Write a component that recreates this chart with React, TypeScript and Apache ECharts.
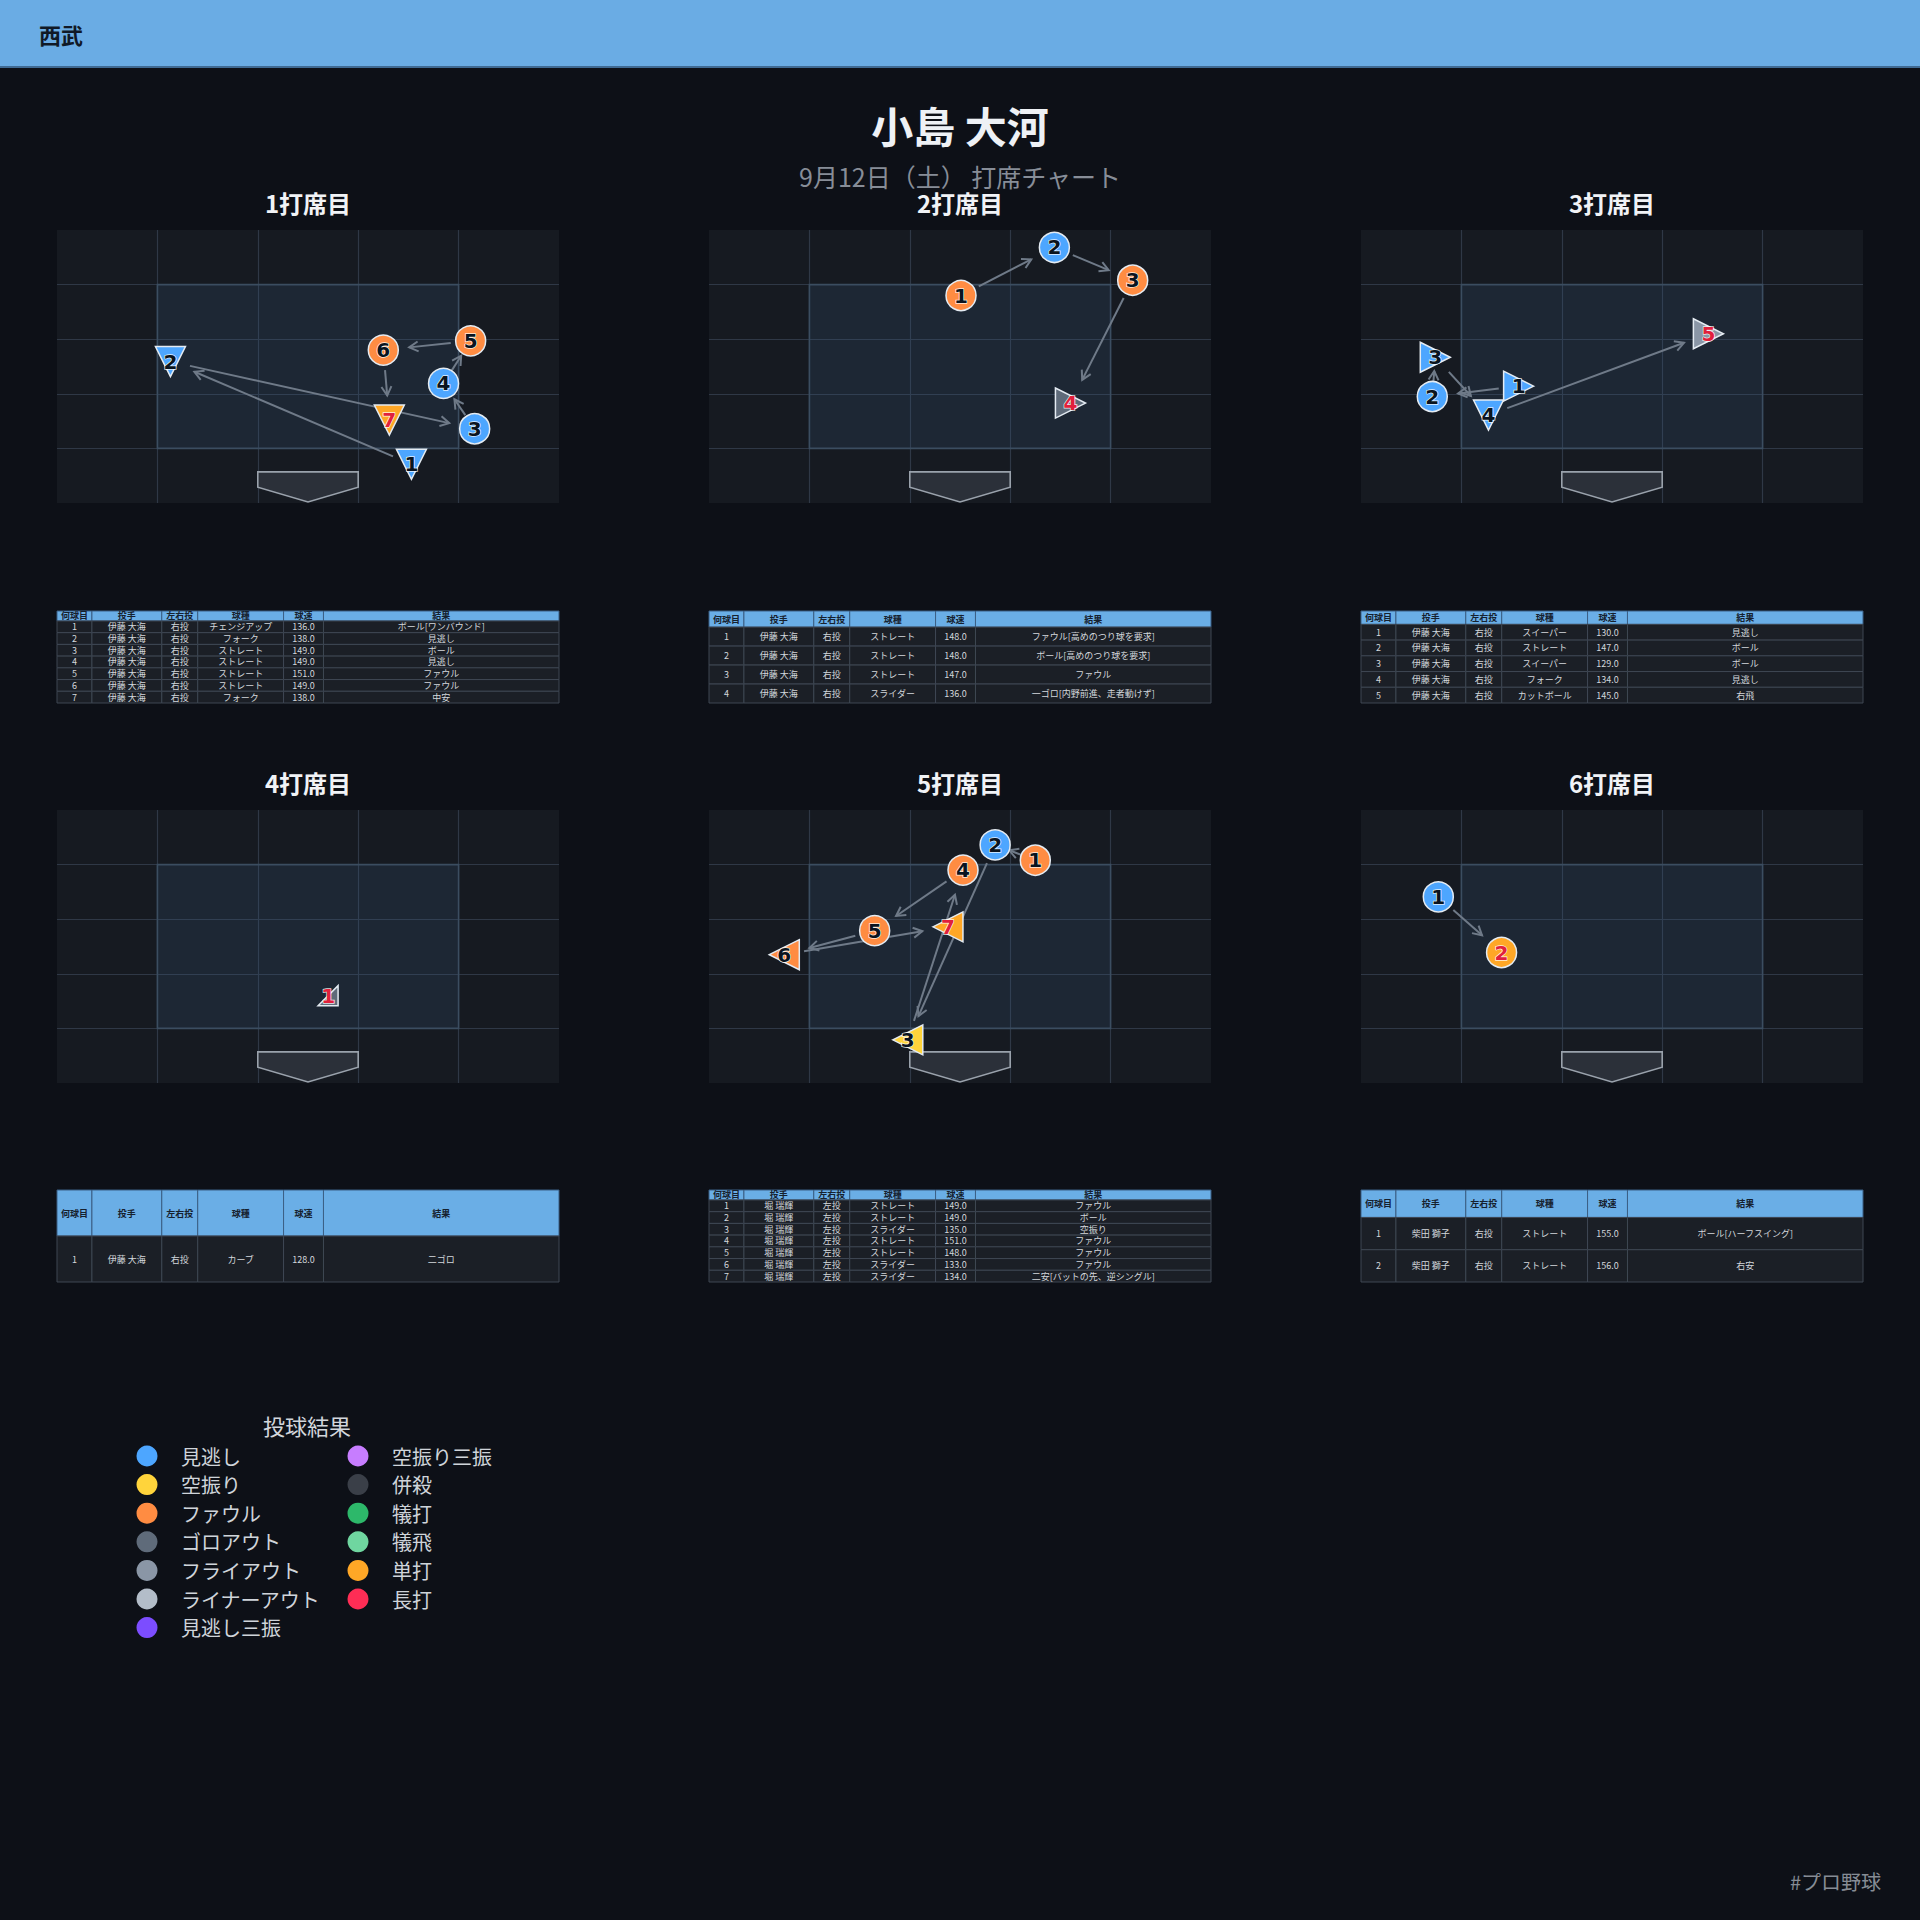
import React, { useEffect, useRef } from 'react';
import * as echarts from 'echarts';

const FONT = '"Noto Sans CJK JP", "Noto Sans", sans-serif';

const teamName = '西武';
const batterName = '小島 大河';
const subtitleText = '9月12日（土） 打席チャート';
const footerTag = '#プロ野球';
const legendTitle = '投球結果';
const tableHeaders = ['何球目', '投手', '左右投', '球種', '球速', '結果'];
const paTitles = ['1打席目', '2打席目', '3打席目', '4打席目', '5打席目', '6打席目'];

// 1打席目
const pa1Pitcher = '伊藤 大海';
const pa1Hand = '右投';
const pa1X = [3.53, 1.13, 4.16, 3.85, 4.12, 3.25, 3.31];
const pa1Y = [0.71, 2.59, 1.36, 2.19, 2.97, 2.8, 1.52];
const pa1Type = ['チェンジアップ', 'フォーク', 'ストレート', 'ストレート', 'ストレート', 'ストレート', 'フォーク'];
const pa1Speed = [136.0, 138.0, 149.0, 149.0, 151.0, 149.0, 138.0];
const pa1Result = ['ボール[ワンバウンド]', '見逃し', 'ボール', '見逃し', 'ファウル', 'ファウル', '中安'];
const pa1Cat = ['ボール', '見逃し', 'ボール', '見逃し', 'ファウル', 'ファウル', '単打'];

// 2打席目
const pa2Pitcher = '伊藤 大海';
const pa2Hand = '右投';
const pa2X = [2.51, 3.44, 4.22, 3.6];
const pa2Y = [3.8, 4.68, 4.08, 1.83];
const pa2Type = ['ストレート', 'ストレート', 'ストレート', 'スライダー'];
const pa2Speed = [148.0, 148.0, 147.0, 136.0];
const pa2Result = ['ファウル[高めのつり球を要求]', 'ボール[高めのつり球を要求]', 'ファウル', '一ゴロ[内野前進、走者動けず]'];
const pa2Cat = ['ファウル', 'ボール', 'ファウル', 'ゴロアウト'];

// 3打席目
const pa3Pitcher = '伊藤 大海';
const pa3Hand = '右投';
const pa3X = [1.57, 0.71, 0.74, 1.27, 3.46];
const pa3Y = [2.14, 1.95, 2.67, 1.61, 3.1];
const pa3Type = ['スイーパー', 'ストレート', 'スイーパー', 'フォーク', 'カットボール'];
const pa3Speed = [130.0, 147.0, 129.0, 134.0, 145.0];
const pa3Result = ['見逃し', 'ボール', 'ボール', '見逃し', '右飛'];
const pa3Cat = ['見逃し', 'ボール', 'ボール', '見逃し', 'フライアウト'];

// 4打席目
const pa4Pitcher = '伊藤 大海';
const pa4Hand = '右投';
const pa4X = [2.7];
const pa4Y = [1.6];
const pa4Type = ['カーブ'];
const pa4Speed = [128.0];
const pa4Result = ['二ゴロ'];
const pa4Cat = ['ゴロアウト'];

// 5打席目
const pa5Pitcher = '堀 瑞輝';
const pa5Hand = '左投';
const pa5X = [3.25, 2.85, 1.98, 2.53, 1.65, 0.75, 2.38];
const pa5Y = [4.08, 4.36, 0.79, 3.9, 2.79, 2.35, 2.86];
const pa5Type = ['ストレート', 'ストレート', 'スライダー', 'ストレート', 'ストレート', 'スライダー', 'スライダー'];
const pa5Speed = [149.0, 149.0, 135.0, 151.0, 148.0, 133.0, 134.0];
const pa5Result = ['ファウル', 'ボール', '空振り', 'ファウル', 'ファウル', 'ファウル', '二安[バットの先、逆シングル]'];
const pa5Cat = ['ファウル', 'ボール', '空振り', 'ファウル', 'ファウル', 'ファウル', '単打'];

// 6打席目
const pa6Pitcher = '柴田 獅子';
const pa6Hand = '右投';
const pa6X = [0.77, 1.4];
const pa6Y = [3.41, 2.39];
const pa6Type = ['ストレート', 'ストレート'];
const pa6Speed = [155.0, 156.0];
const pa6Result = ['ボール[ハーフスイング]', '右安'];
const pa6Cat = ['ボール', '単打'];

// strike zone & plate (data units)
const zoneBounds = [1, 1, 4, 4];
const plateXs = [2, 3, 3, 2.5, 2];
const plateYs = [0.57, 0.57, 0.29, 0.02, 0.29];

// legend
const legendNames = ['見逃し', '空振り', 'ファウル', 'ゴロアウト', 'フライアウト', 'ライナーアウト', '見逃し三振', '空振り三振', '併殺', '犠打', '犠飛', '単打', '長打'];
const legendColors = ['#4da6ff', '#ffd43b', '#ff8c42', '#5f6b7a', '#8a96a6', '#b3bdc9', '#7c4dff', '#c77dff', '#3a3f48', '#2db86a', '#6fd6a0', '#ffa726', '#ff2d55'];

const catColor: Record<string, string> = {
  'ボール': '#4da6ff',
};
legendNames.forEach((n, i) => (catColor[n] = legendColors[i]));

const plateAppearances = [
  { pitcher: pa1Pitcher, hand: pa1Hand, x: pa1X, y: pa1Y, type: pa1Type, speed: pa1Speed, result: pa1Result, cat: pa1Cat },
  { pitcher: pa2Pitcher, hand: pa2Hand, x: pa2X, y: pa2Y, type: pa2Type, speed: pa2Speed, result: pa2Result, cat: pa2Cat },
  { pitcher: pa3Pitcher, hand: pa3Hand, x: pa3X, y: pa3Y, type: pa3Type, speed: pa3Speed, result: pa3Result, cat: pa3Cat },
  { pitcher: pa4Pitcher, hand: pa4Hand, x: pa4X, y: pa4Y, type: pa4Type, speed: pa4Speed, result: pa4Result, cat: pa4Cat },
  { pitcher: pa5Pitcher, hand: pa5Hand, x: pa5X, y: pa5Y, type: pa5Type, speed: pa5Speed, result: pa5Result, cat: pa5Cat },
  { pitcher: pa6Pitcher, hand: pa6Hand, x: pa6X, y: pa6Y, type: pa6Type, speed: pa6Speed, result: pa6Result, cat: pa6Cat },
];

// layout
const panelLefts = [57, 709, 1361];
const panelWidth = 502;
const rowTops = [230, 810];
const panelHeight = 273;
const tableTops = [611, 1190];
const tableHeight = 92;
const colRatios = [35, 70, 36, 86, 40, 236];

function symbolFor(type: string, hand: string): [string, number, number] {
  const right = hand === '右投';
  if (type === 'ストレート') return ['circle', 0, 30];
  if (type === 'フォーク' || type === 'チェンジアップ') return ['triangle', 180, 30];
  if (type === 'カーブ') return [right ? 'path://M10,0L10,10L0,10Z' : 'path://M0,0L10,10L0,10Z', 0, 20];
  return ['triangle', right ? -90 : 90, 30];
}

function buildTable(pa: any, left: number, top: number, width: number, height: number) {
  const els: any[] = [];
  const n = pa.x.length;
  const ratio = n === 1 ? 1 : 0.85;
  const rh = height / (n + ratio);
  const hh = rh * ratio;
  const total = colRatios.reduce((a, b) => a + b, 0);
  const widths = colRatios.map((r) => (r / total) * width);
  let cx = left;
  widths.forEach((w, c) => {
    els.push({
      type: 'rect',
      shape: { x: cx, y: top, width: w, height: hh },
      style: { fill: '#6aaee6', stroke: '#3b5f85', lineWidth: 1 },
      z: 10,
    });
    els.push({
      type: 'text',
      x: cx + w / 2,
      y: top + hh / 2,
      style: { text: tableHeaders[c], fill: '#16212e', font: `bold 9px ${FONT}`, textAlign: 'center', textVerticalAlign: 'middle' },
      z: 11,
    });
    cx += w;
  });
  for (let r = 0; r < n; r++) {
    const y = top + hh + r * rh;
    const vals = [String(r + 1), pa.pitcher, pa.hand, pa.type[r], pa.speed[r].toFixed(1), pa.result[r]];
    let x = left;
    widths.forEach((w, c) => {
      els.push({
        type: 'rect',
        shape: { x, y, width: w, height: rh },
        style: { fill: '#1b1f26', stroke: '#3e4753', lineWidth: 1 },
        z: 10,
      });
      els.push({
        type: 'text',
        x: x + w / 2,
        y: y + rh / 2,
        style: { text: vals[c], fill: '#d3d7dc', font: `9px ${FONT}`, textAlign: 'center', textVerticalAlign: 'middle' },
        z: 11,
      });
      x += w;
    });
  }
  return els;
}

function buildOption() {
  const grids: any[] = [];
  const xAxes: any[] = [];
  const yAxes: any[] = [];
  const series: any[] = [];
  const graphics: any[] = [];

  // header
  graphics.push({ type: 'rect', shape: { x: 0, y: 0, width: 1920, height: 66 }, style: { fill: '#6aace4' }, z: 1 });
  graphics.push({ type: 'rect', shape: { x: 0, y: 66, width: 1920, height: 2 }, style: { fill: '#3f6a93' }, z: 1 });
  graphics.push({
    type: 'text', x: 39, y: 34,
    style: { text: teamName, fill: '#101926', font: `bold 22px ${FONT}`, textAlign: 'left', textVerticalAlign: 'middle' }, z: 2,
  });
  graphics.push({
    type: 'text', x: 960, y: 124,
    style: { text: batterName, fill: '#eef1f5', font: `bold 42px ${FONT}`, textAlign: 'center', textVerticalAlign: 'middle' }, z: 2,
  });
  graphics.push({
    type: 'text', x: 960, y: 176,
    style: { text: subtitleText, fill: '#878d97', font: `25px ${FONT}`, textAlign: 'center', textVerticalAlign: 'middle' }, z: 2,
  });
  graphics.push({
    type: 'text', x: 1881, y: 1881,
    style: { text: footerTag, fill: '#868c95', font: `20px ${FONT}`, textAlign: 'right', textVerticalAlign: 'middle' }, z: 2,
  });

  plateAppearances.forEach((pa, i) => {
    const col = i % 3;
    const row = Math.floor(i / 3);
    const left = panelLefts[col];
    const top = rowTops[row];
    grids.push({ left, top, width: panelWidth, height: panelHeight, show: true, backgroundColor: '#161a21', borderWidth: 0 });
    const axisBase = {
      gridIndex: i, type: 'value', min: 0, max: 5, interval: 1,
      axisLine: { show: false }, axisTick: { show: false }, axisLabel: { show: false },
      splitLine: { show: true, showMinLine: false, showMaxLine: false, lineStyle: { color: '#2f3846', width: 1.2 } },
    };
    xAxes.push({ ...axisBase });
    yAxes.push({ ...axisBase });

    graphics.push({
      type: 'text', x: left + panelWidth / 2, y: top - 28,
      style: { text: paTitles[i], fill: '#f1f3f6', font: `bold 24px ${FONT}`, textAlign: 'center', textVerticalAlign: 'middle' }, z: 2,
    });

    // strike zone
    series.push({
      type: 'custom', xAxisIndex: i, yAxisIndex: i, silent: true, z: 1, clip: false,
      data: [zoneBounds],
      renderItem: (params: any, api: any) => {
        const p1 = api.coord([api.value(0), api.value(3)]);
        const p2 = api.coord([api.value(2), api.value(1)]);
        return {
          type: 'rect',
          shape: { x: p1[0], y: p1[1], width: p2[0] - p1[0], height: p2[1] - p1[1] },
          style: { fill: 'rgba(60,100,140,0.18)', stroke: '#3b4d60', lineWidth: 1.6 },
        };
      },
    });
    // home plate
    series.push({
      type: 'custom', xAxisIndex: i, yAxisIndex: i, silent: true, z: 2, clip: false,
      data: [[plateXs[3], plateYs[3]]],
      renderItem: (params: any, api: any) => {
        const pts = plateXs.map((px, k) => api.coord([px, plateYs[k]]));
        return {
          type: 'polygon',
          shape: { points: pts },
          style: { fill: '#2b3039', stroke: '#9aa2ac', lineWidth: 1.6 },
        };
      },
    });
    // arrows
    const segs: number[][] = [];
    for (let k = 0; k < pa.x.length - 1; k++) segs.push([pa.x[k], pa.y[k], pa.x[k + 1], pa.y[k + 1]]);
    series.push({
      type: 'custom', xAxisIndex: i, yAxisIndex: i, silent: true, z: 3, clip: false,
      data: segs,
      renderItem: (params: any, api: any) => {
        const p1 = api.coord([api.value(0), api.value(1)]);
        const p2 = api.coord([api.value(2), api.value(3)]);
        const dx = p2[0] - p1[0];
        const dy = p2[1] - p1[1];
        const len = Math.sqrt(dx * dx + dy * dy) || 1;
        const ux = dx / len;
        const uy = dy / len;
        const s1 = Math.min(20, len * 0.3);
        const s2 = Math.min(26, len * 0.35);
        const a = [p1[0] + ux * s1, p1[1] + uy * s1];
        const b = [p2[0] - ux * s2, p2[1] - uy * s2];
        const hl = 9;
        const hw = 5;
        const back = [b[0] - ux * hl, b[1] - uy * hl];
        const h1 = [back[0] - uy * hw, back[1] + ux * hw];
        const h2 = [back[0] + uy * hw, back[1] - ux * hw];
        const color = '#6f7a88';
        return {
          type: 'group',
          children: [
            { type: 'line', shape: { x1: a[0], y1: a[1], x2: b[0], y2: b[1] }, style: { stroke: color, lineWidth: 2 } },
            { type: 'polyline', shape: { points: [h1, b, h2] }, style: { stroke: color, lineWidth: 2, fill: null } },
          ],
        };
      },
    });
    // pitches
    const last = pa.x.length - 1;
    series.push({
      type: 'scatter', xAxisIndex: i, yAxisIndex: i, z: 5,
      data: pa.x.map((px: number, k: number) => {
        const [sym, rot, size] = symbolFor(pa.type[k], pa.hand);
        return {
          value: [px, pa.y[k]],
          symbol: sym,
          symbolRotate: rot,
          symbolSize: size,
          itemStyle: { color: catColor[pa.cat[k]], borderColor: '#e4ebf2', borderWidth: 1.5, opacity: 1 },
          label: { color: k === last ? '#e1203c' : '#0a1420' },
        };
      }),
      itemStyle: { opacity: 1 },
      label: {
        show: true, position: 'inside', formatter: (p: any) => String(p.dataIndex + 1),
        fontFamily: 'DejaVu Sans', fontWeight: 'bold', fontSize: 20,
        textBorderColor: 'rgba(255,255,255,0.85)', textBorderWidth: 1.5,
      },
    });

    graphics.push(...buildTable(pa, left, tableTops[row], panelWidth, tableHeight));
  });

  // legend
  graphics.push({
    type: 'text', x: 307, y: 1425,
    style: { text: legendTitle, fill: '#d2d6dc', font: `22px ${FONT}`, textAlign: 'center', textVerticalAlign: 'middle' }, z: 2,
  });
  legendNames.forEach((name, k) => {
    const col = k < 7 ? 0 : 1;
    const r = k < 7 ? k : k - 7;
    const cy = 1456 + r * 28.6;
    const cx = col === 0 ? 147 : 358;
    graphics.push({ type: 'circle', shape: { cx, cy, r: 10.5 }, style: { fill: legendColors[k] }, z: 2 });
    graphics.push({
      type: 'text', x: cx + 34, y: cy,
      style: { text: name, fill: '#cfd4da', font: `20px ${FONT}`, textAlign: 'left', textVerticalAlign: 'middle' }, z: 2,
    });
  });

  return {
    animation: false,
    backgroundColor: '#0d1017',
    textStyle: { fontFamily: FONT },
    grid: grids,
    xAxis: xAxes,
    yAxis: yAxes,
    series,
    graphic: { elements: graphics },
  };
}

export default function App() {
  const ref = useRef<HTMLDivElement>(null);
  useEffect(() => {
    if (!ref.current) return;
    const chart = echarts.init(ref.current, undefined, { renderer: 'svg' });
    chart.setOption(buildOption() as any);
    return () => chart.dispose();
  }, []);
  return <div ref={ref} style={{ position: 'absolute', left: 0, top: 0, width: 1920, height: 1920 }} />;
}
